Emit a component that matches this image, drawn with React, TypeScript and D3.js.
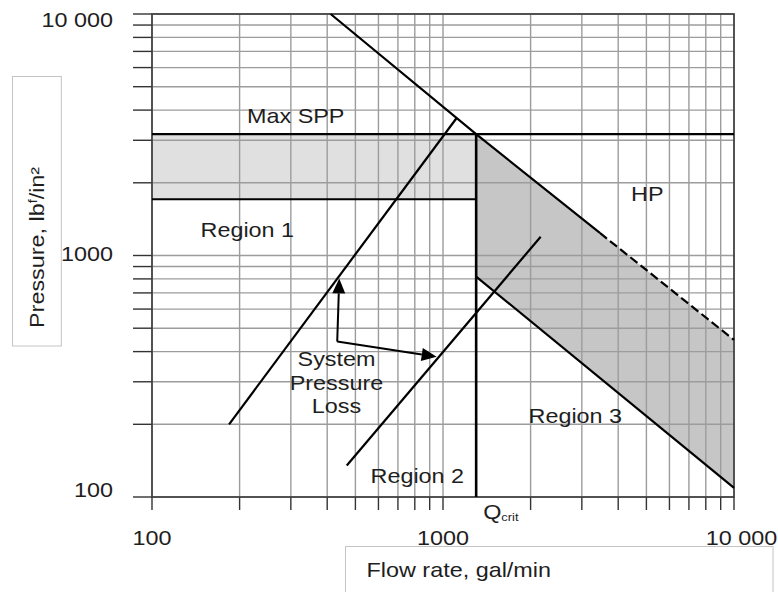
import React from 'react';
import * as d3 from 'd3';

// ---- data ----
const xDomain: [number, number] = [100, 10000];
const yDomain: [number, number] = [100, 10000];
const xTickValues = [100, 1000, 10000];
const xTickLabels = ['100', '1000', '10 000'];
const yTickValues = [100, 1000, 10000];
const yTickLabels = ['100', '1000', '10 000'];

const maxSPP = 3180;
const region1Low = 1710;
const qCrit = 1300;
const hpSolid: [number, number][] = [[411, 10000], [1300, 3180], [3460, 1240]];
const hpDashed: [number, number][] = [[3460, 1240], [10000, 447]];
const region3Lower: [number, number][] = [[1300, 818], [10000, 109]];
const systemLoss1: [number, number][] = [[184, 200], [1114, 3710]];
const systemLoss2: [number, number][] = [[467, 135], [2166, 1196]];
const arrowCorner: [number, number] = [433, 440];
const arrowTips: [number, number][] = [[440, 804], [951, 381]];

// ---- layout ----
const W = 778, H = 592;
const L = 152, R = 734, T = 14, B = 497;
const SX = 1.17;
const FONT = '"Liberation Sans", Arial, Helvetica, sans-serif';
const TXT = '#1e1e1e';

function Label({ x, y, children, anchor = 'start', size = 20, rotate = 0 }: any) {
  return (
    <text
      transform={`translate(${x},${y}) rotate(${rotate}) scale(${SX},1)`}
      textAnchor={anchor}
      fontSize={size}
      fontFamily={FONT}
      fill={TXT}
    >
      {children}
    </text>
  );
}

export default function App() {
  const x = d3.scaleLog().domain(xDomain).range([L, R]);
  const y = d3.scaleLog().domain(yDomain).range([B, T]);
  const line = d3.line<[number, number]>().x(d => x(d[0])).y(d => y(d[1]));

  const xGrid = x.ticks();
  const yGrid = y.ticks();

  const region3: [number, number][] = [
    ...hpSolid.slice(1),
    ...hpDashed.slice(1),
    ...region3Lower.slice().reverse(),
  ];

  const corner = [x(arrowCorner[0]), y(arrowCorner[1])];
  const arrows = arrowTips.map(t => {
    const tx = x(t[0]), ty = y(t[1]);
    const dx = tx - corner[0], dy = ty - corner[1];
    const len = Math.hypot(dx, dy);
    const ux = dx / len, uy = dy / len;
    const hl = 15, hw = 6.5;
    const bx = tx - ux * hl, by = ty - uy * hl;
    const head = `M${tx},${ty}L${bx - uy * hw},${by + ux * hw}L${bx + uy * hw},${by - ux * hw}Z`;
    return { tx, ty, bx, by, head };
  });

  const xNudge = [0, 0, 7.5];

  return (
    <svg width={W} height={H} style={{ position: 'absolute', left: 0, top: 0, background: '#fff' }}>
      {/* region fills */}
      <rect x={x(xDomain[0])} y={y(maxSPP)} width={x(qCrit) - x(xDomain[0])} height={y(region1Low) - y(maxSPP)} fill="#e0e0e0" />
      <path d={line(region3) + 'Z'} fill="#c6c6c6" />

      {/* grid */}
      <g stroke="#9c9c9c" strokeWidth={1.4}>
        {xGrid.map((v, i) => <line key={'gx' + i} x1={x(v)} x2={x(v)} y1={T} y2={B} />)}
        {yGrid.map((v, i) => <line key={'gy' + i} x1={L} x2={R} y1={y(v)} y2={y(v)} />)}
      </g>
      {/* ticks */}
      <g stroke="#333" strokeWidth={1.4}>
        {xGrid.map((v, i) => <line key={'tx' + i} x1={x(v)} x2={x(v)} y1={B} y2={B + 13} />)}
        {yGrid.map((v, i) => <line key={'ty' + i} x1={L - 19} x2={L} y1={y(v)} y2={y(v)} />)}
      </g>
      <rect x={L} y={T} width={R - L} height={B - T} fill="none" stroke="#3a3a3a" strokeWidth={1.6} />

      {/* lines */}
      <g stroke="#000" strokeWidth={2.2} fill="none">
        <line x1={L} x2={R} y1={y(maxSPP)} y2={y(maxSPP)} />
        <line x1={L} x2={x(qCrit)} y1={y(region1Low)} y2={y(region1Low)} />
        <line x1={x(qCrit)} x2={x(qCrit)} y1={y(maxSPP)} y2={B} strokeWidth={2.6} />
        <path d={line(hpSolid) || ''} />
        <path d={line(hpDashed) || ''} strokeDasharray="9,4" />
        <path d={line(region3Lower) || ''} />
        <path d={line(systemLoss1) || ''} />
        <path d={line(systemLoss2) || ''} />
        {arrows.map((a, i) => (
          <line key={'al' + i} x1={corner[0]} y1={corner[1]} x2={a.bx} y2={a.by} strokeWidth={2} />
        ))}
      </g>
      {arrows.map((a, i) => <path key={'ah' + i} d={a.head} fill="#000" />)}

      {/* annotations */}
      <Label x={247} y={123}>Max SPP</Label>
      <Label x={200.5} y={236.5}>Region 1</Label>
      <Label x={631} y={201}>HP</Label>
      <Label x={370.5} y={483}>Region 2</Label>
      <Label x={528.5} y={422.5}>Region 3</Label>
      <Label x={336.5} y={366} anchor="middle">System</Label>
      <Label x={336.5} y={389.5} anchor="middle">Pressure</Label>
      <Label x={336.5} y={413} anchor="middle">Loss</Label>
      <text transform={`translate(${x(qCrit) + 7},${519}) scale(${SX},1)`} fontFamily={FONT} fill={TXT} fontSize={20}>
        Q<tspan fontSize={11} dy={2}>crit</tspan>
      </text>

      {/* tick labels */}
      {xTickValues.map((v, i) => (
        <Label key={'xl' + i} x={x(v) + xNudge[i]} y={545} anchor="middle">{xTickLabels[i]}</Label>
      ))}
      {yTickValues.map((v, i) => (
        <Label key={'yl' + i} x={113} y={Math.min(B, Math.max(27, y(v) + 5))} anchor="end">{yTickLabels[i]}</Label>
      ))}

      {/* axis title boxes */}
      <rect x={12.5} y={76.5} width={48.8} height={269.5} fill="#fff" stroke="#c4c4c4" strokeWidth={1} />
      <text transform={`translate(44,328) rotate(-90) scale(${SX},1)`} fontFamily={FONT} fill={TXT} fontSize={20}>
        Pressure, lb<tspan fontSize={12} dy={-7}>f</tspan><tspan dy={7}>/in²</tspan>
      </text>
      <rect x={345.5} y={546.5} width={427.5} height={60} fill="#fff" stroke="#c4c4c4" strokeWidth={1} />
      <Label x={366.5} y={577}>Flow rate, gal/min</Label>
    </svg>
  );
}
